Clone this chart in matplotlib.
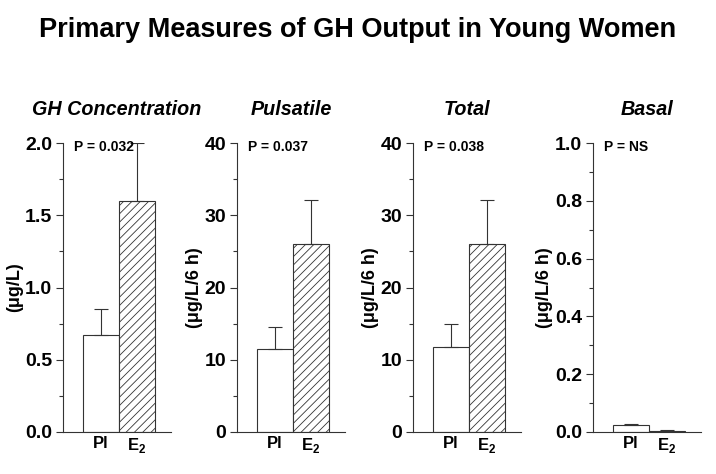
import numpy as np
import matplotlib.pyplot as plt
from matplotlib.ticker import MultipleLocator

plt.rcParams['font.family'] = ['Liberation Sans', 'DejaVu Sans']
plt.rcParams['hatch.linewidth'] = 0.6
plt.rcParams['hatch.color'] = '#555555'

# Data
groups = ['Pl', 'E$_\\mathregular{2}$']
titles = ['GH Concentration', 'Pulsatile', 'Total', 'Basal']
ylabels = ['(\u03bcg/L)', '(\u03bcg/L/6 h)', '(\u03bcg/L/6 h)', '(\u03bcg/L/6 h)']
pvalues = ['P = 0.032', 'P = 0.037', 'P = 0.038', 'P = NS']
means = [[0.67, 1.60], [11.5, 26.0], [11.7, 26.0], [0.025, 0.003]]
errors = [[0.18, 0.40], [3.0, 6.1], [3.3, 6.1], [0.003, 0.003]]
ymax = [2.0, 40, 40, 1.0]
major = [0.5, 10, 10, 0.2]
minor = [0.25, 5, 5, 0.1]
yfmt = ['{:.1f}', '{:.0f}', '{:.0f}', '{:.1f}']

fig = plt.figure(figsize=(7.16, 4.74), dpi=100)
fig.text(0.5, 0.937, 'Primary Measures of GH Output in Young Women',
         ha='center', va='center', fontsize=19.5, fontweight='bold')

axis_left = [63, 237, 413, 593]
W, H = 716, 474
x = np.array([1, 2])

for i in range(4):
    ax = fig.add_axes([axis_left[i] / W, 1 - 432 / H, 108 / W, (432 - 143) / H])
    ax.bar(x[0], means[i][0], width=1, color='white', edgecolor='#333333', linewidth=0.8)
    ax.bar(x[1], means[i][1], width=1, color='white', edgecolor='#333333', linewidth=0.8,
           hatch='////')
    ax.errorbar(x, means[i], yerr=[[0, 0], errors[i]], fmt='none', ecolor='#333333',
                elinewidth=0.8, capsize=5, capthick=0.8)
    ax.set_xlim(-0.05, 2.95)
    ax.set_ylim(0, ymax[i])
    ax.yaxis.set_major_locator(MultipleLocator(major[i]))
    ax.yaxis.set_minor_locator(MultipleLocator(minor[i]))
    ticks = np.arange(0, ymax[i] + major[i] / 2, major[i])
    ax.set_yticks(ticks)
    ax.set_yticklabels([yfmt[i].format(t) for t in ticks], fontsize=14, fontweight='bold')
    ax.set_xticks(x)
    ax.set_xticklabels(groups, fontsize=12, fontweight='bold')
    ax.tick_params(axis='x', length=0, pad=3)
    ax.tick_params(axis='y', which='major', length=5, width=0.8, color='#333333', pad=3)
    ax.tick_params(axis='y', which='minor', length=3, width=0.8, color='#333333')
    for s in ['top', 'right']:
        ax.spines[s].set_visible(False)
    for s in ['left', 'bottom']:
        ax.spines[s].set_linewidth(0.8)
        ax.spines[s].set_color('#333333')
    ax.set_ylabel(ylabels[i], fontsize=13, fontweight='bold', labelpad=1)
    ax.set_title(titles[i], fontsize=14.2, fontweight='bold', style='italic', pad=20)
    ax.text(0.1, 0.985, pvalues[i], transform=ax.transAxes, ha='left', va='center',
            fontsize=10, fontweight='bold')

fig.savefig('out.png', dpi=100)
